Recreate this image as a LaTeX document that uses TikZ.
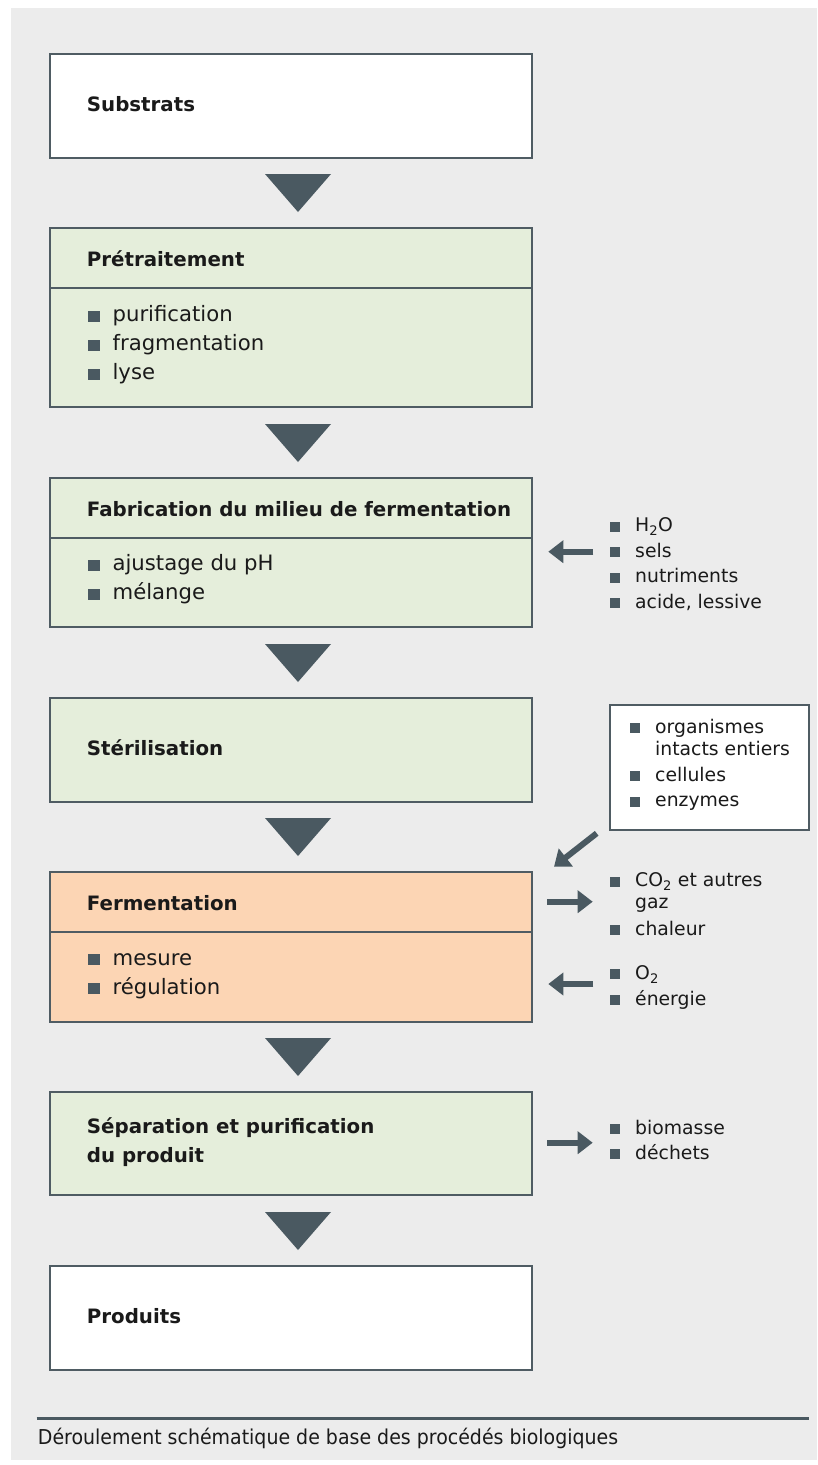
\documentclass[tikz,border=0pt]{standalone}
\usepackage{fontspec}
\setmainfont{DejaVu Sans}
\newfontfamily\capfont{DejaVu Sans}[FakeStretch=0.925]
\usetikzlibrary{arrows.meta}
\definecolor{bg}{HTML}{ECECEC}
\definecolor{frame}{HTML}{4F5C63}
\definecolor{dark}{HTML}{4A5961}
\definecolor{greenf}{HTML}{E5EEDB}
\definecolor{orangef}{HTML}{FCD5B4}
\definecolor{txt}{HTML}{1A1A1A}
\newcommand\bigsq{\textcolor{dark}{\rule{12pt}{11pt}}\hspace{12.7pt}}
\newcommand\smsq{\textcolor{dark}{\rule{10.7pt}{10pt}}\hspace{15pt}}
\newcommand\smsqph{\hspace{25.7pt}}
\tikzset{
  stage/.style={draw=frame, line width=2pt, anchor=north west, minimum width=482pt, inner sep=0pt, outer sep=0pt},
  infobox/.style={draw=frame, line width=2pt, fill=white, anchor=north west, minimum width=198.7pt, minimum height=125.3pt, inner sep=0pt},
  title/.style={anchor=base west, inner sep=0pt, font=\fontsize{19.8}{24}\selectfont\bfseries, text=txt},
  item/.style={anchor=base west, inner sep=0pt, font=\fontsize{21.2}{26}\selectfont, text=txt},
  sitem/.style={anchor=base west, inner sep=0pt, font=\fontsize{18.8}{24}\selectfont, text=txt},
  divider/.style={draw=frame, line width=2pt},
  flow/.style={fill=dark},
  side/.style={draw=dark, line width=6pt, -{Triangle[width=22pt,length=15pt]}},
}
\begin{document}
\begin{tikzpicture}[x=1pt,y=-1pt]
\useasboundingbox (0,0) rectangle (817,1465);
\fill[bg] (11,8) rectangle (817,1460);

% stage boxes
\node[stage, fill=white,   minimum height=104pt]   (b1) at (49.5,54) {};
\node[stage, fill=greenf,  minimum height=178.7pt] (b2) at (49.5,228.3) {};
\node[stage, fill=greenf,  minimum height=148.5pt] (b3) at (49.5,478.3) {};
\node[stage, fill=greenf,  minimum height=104pt]   (b4) at (49.5,698) {};
\node[stage, fill=orangef, minimum height=150pt]   (b5) at (49.5,872) {};
\node[stage, fill=greenf,  minimum height=103pt]   (b6) at (49.5,1092.3) {};
\node[stage, fill=white,   minimum height=104pt]   (b7) at (49.5,1266) {};

\draw[divider] (49.5,287.7) -- (531.5,287.7);
\draw[divider] (49.5,537.7) -- (531.5,537.7);
\draw[divider] (49.5,931.7) -- (531.5,931.7);

% texts
\node[title] (t1) at (86.7,111.7) {Substrats};
\node[title] (t2) at (86.7,266.7) {Prétraitement};
\node[item] (t2a) at (87.7,321.7) {\bigsq purification};
\node[item] (t2b) at (87.7,350.7) {\bigsq fragmentation};
\node[item] (t2c) at (87.7,379.7) {\bigsq lyse};
\node[title] (t3) at (86.7,516.7) {Fabrication du milieu de fermentation};
\node[item] (t3a) at (87.7,570.7) {\bigsq ajustage du pH};
\node[item] (t3b) at (87.7,599.7) {\bigsq mélange};
\node[title] (t4) at (86.7,755.7) {Stérilisation};
\node[title] (t5) at (86.7,910.5) {Fermentation};
\node[item] (t5a) at (87.7,965) {\bigsq mesure};
\node[item] (t5b) at (87.7,994) {\bigsq régulation};
\node[title] (t6a) at (86.7,1133.3) {Séparation et purification};
\node[title] (t6b) at (86.7,1162.3) {du produit};
\node[title] (t7) at (86.7,1323.7) {Produits};

% flow triangles
\fill[flow] (265,174) -- (331,174) -- (298,212) -- cycle;
\fill[flow] (265,424) -- (331,424) -- (298,462) -- cycle;
\fill[flow] (265,644) -- (331,644) -- (298,682) -- cycle;
\fill[flow] (265,818) -- (331,818) -- (298,856) -- cycle;
\fill[flow] (265,1038) -- (331,1038) -- (298,1076) -- cycle;
\fill[flow] (265,1212) -- (331,1212) -- (298,1250) -- cycle;

% side list 1 (inputs to medium)
\node[sitem] (l1a) at (609.3,531.7) {\smsq H\textsubscript{2}O};
\node[sitem] (l1b) at (609.3,557.2) {\smsq sels};
\node[sitem] (l1c) at (609.3,582.8) {\smsq nutriments};
\node[sitem] (l1d) at (609.3,608.3) {\smsq acide, lessive};
\coordinate (a1s) at (593.3,551.7);
\coordinate (a1e) at (548.3,551.7);
\draw[side] (a1s) -- (a1e);

% organisms box
\node[infobox] (ob) at (609,704) {};
\node[sitem] (o1) at (629.3,733.3) {\smsq organismes};
\node[sitem] (o2) at (629.3,755.3) {\smsqph intacts entiers};
\node[sitem] (o3) at (629.3,781) {\smsq cellules};
\node[sitem] (o4) at (629.3,806.7) {\smsq enzymes};
\coordinate (a2s) at (596.7,833.3);
\coordinate (a2e) at (554,866.7);
\draw[side] (a2s) -- (a2e);

% outputs of fermentation
\node[sitem] (g1) at (609.3,886.7) {\smsq CO\textsubscript{2} et autres};
\node[sitem] (g2) at (609.3,908.7) {\smsqph gaz};
\node[sitem] (g3) at (609.3,935) {\smsq chaleur};
\coordinate (a3s) at (547.3,901.7);
\coordinate (a3e) at (592.7,901.7);
\draw[side] (a3s) -- (a3e);

% inputs to fermentation
\node[sitem] (e1) at (609.3,979.3) {\smsq O\textsubscript{2}};
\node[sitem] (e2) at (609.3,1005) {\smsq énergie};
\coordinate (a4s) at (593.3,984);
\coordinate (a4e) at (548.3,984);
\draw[side] (a4s) -- (a4e);

% outputs of separation
\node[sitem] (s1) at (609.3,1134) {\smsq biomasse};
\node[sitem] (s2) at (609.3,1159.3) {\smsq déchets};
\coordinate (a5s) at (547.3,1142.7);
\coordinate (a5e) at (592.7,1142.7);
\draw[side] (a5s) -- (a5e);

% caption
\draw[dark, line width=3pt] (36.7,1418) -- (809,1418);
\node[anchor=base west, inner sep=0pt, text=txt, font=\capfont\fontsize{20.5}{24}\selectfont] (cap) at (37.7,1444.3) {Déroulement schématique de base des procédés biologiques};
\end{tikzpicture}
\end{document}
